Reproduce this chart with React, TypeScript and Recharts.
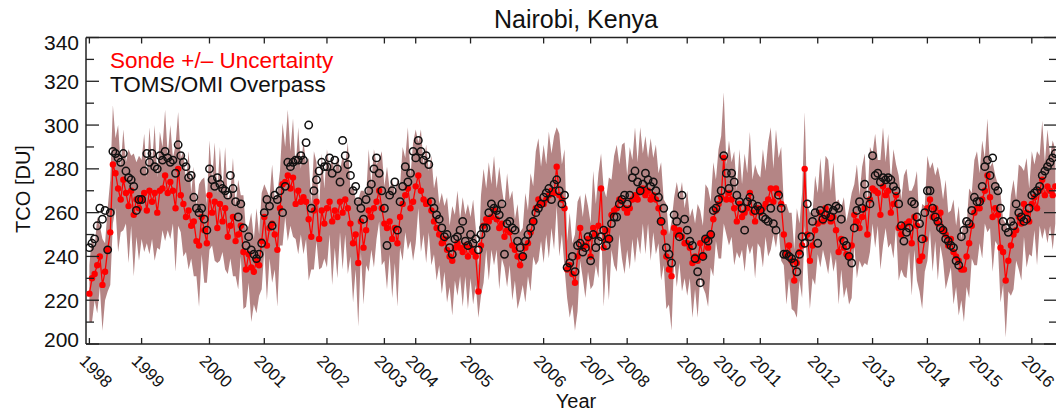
import React from 'react';
import { ComposedChart, Area, Line, XAxis, YAxis, ReferenceLine } from 'recharts';

// one entry per launch year; the x axis is the sounding number, ticks sit on each year's first sounding
const years = ['1998', '1999', '2000', '2001', '2002', '2003', '2004', '2005', '2006', '2007', '2008', '2009', '2010', '2011', '2012', '2013', '2014', '2015', '2016'];

// sonde total column ozone [DU]
const sonde = [
  [223, 230, 232, 236, 240, 227, 233, 243, 251, 282, 278, 271, 266, 275, 269, 263, 270, 259, 266, 262],
  [266, 269, 261, 270, 265, 269, 260, 270, 271, 277, 269, 274, 270, 262, 280, 268, 264, 258, 261, 254, 256, 247, 245, 258, 252, 246],
  [268, 260, 265, 253, 264, 256, 262, 249, 254, 258, 247, 250, 254, 242, 234, 241, 235, 233, 238, 236, 247],
  [258, 245, 253, 255, 250, 243, 262, 273, 274, 277, 271, 276, 264, 270, 265, 267, 265, 257, 249, 261, 265, 248, 261, 255],
  [262, 265, 256, 261, 258, 265, 260, 266, 262, 255, 246, 250, 237, 256, 244, 252, 261, 258, 262, 265, 270, 262],
  [255, 253, 256, 248, 253, 246, 258, 264, 268, 271, 262, 265],
  [272, 277, 270, 266, 264, 265, 261, 256, 253, 250, 246, 248, 243, 240, 238, 244, 246, 244, 242, 245, 240],
  [244, 242, 240, 224, 245, 254, 257, 256, 258, 261, 257, 253, 255, 249, 252, 251, 245, 243, 240, 236, 240, 244, 246, 251, 256, 262, 266, 264],
  [264, 266, 268, 270, 269, 281, 268, 266, 262, 234, 236, 232, 228, 240, 253, 244, 245, 248],
  [240, 253, 250, 254, 271, 244, 252, 248, 259, 261, 262, 266, 265, 262],
  [260, 262, 266, 268, 266, 270, 271, 268, 270, 266, 268, 266, 262, 256, 251, 240, 234, 231, 253, 250, 252, 249, 246],
  [246, 244, 237, 240, 238, 246, 240, 248, 244, 250, 257, 261, 264, 267],
  [285, 266, 269, 266, 262, 256, 264, 258, 260, 262, 269, 260, 256, 262],
  [260, 262, 264, 266, 271, 265, 271, 269, 264, 250, 241, 245, 238, 229, 237, 242, 245, 280, 250, 238, 245, 252],
  [255, 260, 256, 262, 258, 256, 258, 252, 242, 248, 244, 241, 240, 245, 259, 256, 253, 258, 262, 250, 266],
  [271, 270, 269, 259, 272, 268, 270, 260, 264, 268, 253, 250, 254, 255, 256, 246, 258, 254, 238, 240, 248],
  [262, 266, 258, 262, 255, 260, 252, 250, 245, 248, 242, 240, 238, 234, 234, 240, 246, 254, 260, 262],
  [262, 266, 270, 277, 267, 258, 262, 259, 244, 242, 229, 238, 245, 250, 252, 258, 255, 264, 260, 256],
  [264, 267, 262, 270, 275, 268, 272, 270, 268, 272],
];

// TOMS/OMI overpass total ozone [DU]
const overpass = [
  [244, 246, 248, 254, 262, 257, 261, 243, 260, 288, 287, 285, 283, 287, 279, 276, 275, 272, 261, 266],
  [266, 279, 287, 283, 287, 281, 280, 286, 284, 288, 285, 283, 284, 278, 291, 286, 283, 281, 276, 277, 267, 262, 260, 262, 257, 252],
  [280, 275, 272, 276, 273, 271, 270, 268, 277, 271, 265, 258, 264, 253, 245, 249, 243, 241, 239, 241, 246],
  [260, 266, 263, 254, 268, 266, 270, 260, 272, 283, 281, 283, 284, 284, 286, 284, 292, 300, 262, 270, 275, 279, 283, 281],
  [281, 285, 278, 284, 280, 274, 293, 286, 282, 277, 270, 272, 265, 262, 257, 266, 270, 273, 280, 285, 278, 270],
  [262, 245, 268, 270, 274, 252, 265, 272, 281, 274, 278, 288],
  [285, 293, 288, 284, 286, 282, 265, 262, 259, 257, 253, 249, 250, 244, 241, 248, 249, 252, 256, 247, 245],
  [250, 246, 248, 243, 250, 253, 253, 260, 264, 262, 261, 259, 264, 241, 255, 256, 253, 252, 247, 244, 240, 247, 250, 253, 256, 260, 262, 264],
  [267, 269, 271, 266, 273, 275, 270, 264, 268, 235, 237, 240, 233, 245, 246, 242, 244, 249],
  [238, 250, 244, 247, 249, 252, 245, 248, 255, 258, 258, 264, 266, 268],
  [264, 268, 276, 279, 274, 270, 273, 278, 275, 272, 274, 270, 267, 256, 262, 244, 241, 237, 259, 256, 249, 268, 257],
  [252, 247, 245, 239, 233, 228, 240, 248, 247, 250, 261, 262, 266, 270],
  [286, 278, 271, 278, 274, 268, 265, 262, 252, 265, 267, 264, 261, 263],
  [261, 258, 257, 256, 262, 255, 252, 268, 262, 241, 241, 240, 239, 237, 233, 241, 249, 246, 264, 249, 256, 260],
  [246, 261, 257, 259, 262, 258, 261, 263, 262, 257, 247, 245, 240, 237, 253, 261, 265, 262, 273, 268, 264],
  [286, 277, 278, 274, 276, 275, 276, 275, 272, 270, 264, 254, 247, 251, 253, 265, 264, 258, 255, 248, 260],
  [270, 270, 262, 258, 256, 253, 252, 248, 247, 245, 244, 238, 236, 249, 252, 256, 255, 261, 267, 265],
  [265, 272, 281, 284, 277, 285, 272, 270, 262, 256, 253, 251, 256, 254, 264, 260, 258, 256, 257, 262],
  [268, 269, 270, 272, 277, 279, 281, 283, 285, 287],
];

// sonde uncertainty [DU]
const uncertainty = [
  [13, 20, 12, 22, 14, 21, 13, 19, 24, 27, 16, 29, 15, 23, 14, 26, 16, 28, 17, 24],
  [18, 27, 15, 29, 17, 31, 16, 27, 19, 30, 17, 26, 15, 29, 26, 17, 24, 16, 27, 15, 25, 16, 28, 17, 24, 18],
  [25, 15, 27, 16, 26, 14, 28, 17, 15, 27, 16, 25, 14, 26, 17, 13, 25, 15, 24, 14, 22],
  [15, 25, 14, 27, 16, 26, 17, 28, 16, 30, 17, 27, 16, 29, 15, 26, 17, 28, 15, 27, 18, 14, 26, 16],
  [27, 15, 29, 17, 28, 14, 26, 16, 30, 15, 27, 16, 29, 14, 26, 16, 28, 15, 27, 17, 14, 26],
  [17, 28, 15, 27, 16, 29, 14, 26, 17, 28, 15, 27],
  [26, 15, 28, 16, 27, 14, 25, 15, 24, 14, 23, 15, 24, 14, 25, 15, 24, 13, 25, 14, 24],
  [14, 24, 13, 12, 23, 26, 14, 27, 15, 25, 14, 28, 16, 14, 26, 15, 25, 14, 24, 15, 13, 25, 15, 27, 16, 26, 28, 17],
  [27, 16, 29, 17, 26, 18, 28, 16, 27, 13, 24, 14, 22, 25, 15, 14, 24, 15],
  [15, 26, 14, 24, 16, 27, 15, 28, 16, 25, 29, 16, 26, 30],
  [17, 28, 18, 31, 17, 29, 16, 27, 15, 28, 17, 25, 16, 27, 15, 24, 16, 25, 14, 24, 15, 25, 16],
  [24, 14, 25, 15, 26, 15, 14, 25, 27, 15, 26, 14, 25, 28],
  [30, 16, 24, 17, 26, 14, 25, 15, 27, 16, 28, 15, 26, 16],
  [16, 27, 15, 26, 28, 15, 27, 16, 26, 14, 23, 15, 22, 14, 25, 13, 24, 26, 14, 22, 15, 25],
  [14, 25, 13, 24, 26, 14, 25, 13, 24, 14, 23, 15, 22, 24, 14, 26, 15, 23, 25, 14, 24],
  [16, 26, 15, 25, 27, 15, 26, 14, 25, 14, 24, 16, 23, 25, 14, 24, 15, 25, 14, 24, 15],
  [24, 14, 25, 15, 26, 15, 14, 25, 15, 13, 24, 14, 25, 14, 24, 14, 25, 15, 24, 26],
  [16, 27, 15, 26, 14, 25, 15, 14, 25, 15, 26, 14, 23, 25, 14, 24, 26, 15, 25, 15],
  [24, 15, 26, 16, 27, 15, 26, 16, 25, 17],
];

const yTicks = [200, 210, 220, 230, 240, 250, 260, 270, 280, 290, 300, 310, 320, 330, 340];

const yearStart: number[] = [];
const data: { i: number; sonde: number; toms: number; band: [number, number] }[] = [];
years.forEach((_, y) => {
  yearStart.push(data.length);
  sonde[y].forEach((v, k) => {
    const u = uncertainty[y][k];
    data.push({ i: data.length, sonde: v, toms: overpass[y][k], band: [v - u, v + u] });
  });
});

const W = 1060;
const H = 411;
const TOP = 37.5;
const LEFT = 86;
const RIGHT = 1057;
const BOTTOM = 344;
const X_MIN = -1.3;
const X_MAX = data.length - 0.35;
const FONT = "'Liberation Sans', Arial, Helvetica, sans-serif";
const AXIS = '#222';

function YTick(props: any) {
  const { y, payload } = props;
  const v = payload.value;
  const major = v % 20 === 0;
  const len = major ? 13 : 8;
  let ly = y;
  if (v === 340) ly = y + 5;
  if (v === 200) ly = y - 5;
  return (
    <g>
      <line x1={LEFT} x2={LEFT + len} y1={y} y2={y} stroke={AXIS} strokeWidth={1.3} />
      <line x1={RIGHT - len} x2={RIGHT} y1={y} y2={y} stroke={AXIS} strokeWidth={1.3} />
      {major && (
        <text x={LEFT - 7} y={ly} textAnchor="end" dominantBaseline="central" fontSize={21} fontFamily={FONT} fill="#111">
          {v}
        </text>
      )}
    </g>
  );
}

function XTick(props: any) {
  const { x, payload } = props;
  const idx = yearStart.indexOf(payload.value);
  const label = idx >= 0 ? years[idx] : '';
  const tx = x - 11;
  const ty = BOTTOM + 18;
  return (
    <g>
      <line x1={x} x2={x} y1={BOTTOM} y2={BOTTOM - 6} stroke={AXIS} strokeWidth={1.3} />
      <line x1={x} x2={x} y1={TOP} y2={TOP + 6} stroke={AXIS} strokeWidth={1.3} />
      <text x={tx} y={ty} transform={`rotate(45 ${tx} ${ty})`} fontSize={17} fontFamily={FONT} fill="#111">
        {label}
      </text>
    </g>
  );
}

export default function App() {
  return (
    <div style={{ position: 'absolute', left: 0, top: 0, width: 1056, height: H, overflow: 'hidden', background: '#fff' }}>
      <ComposedChart width={W} height={H} data={data} margin={{ top: TOP, right: W - RIGHT, bottom: 0, left: 0 }}>
        <Area
          dataKey="band"
          type="linear"
          stroke="none"
          fill="#a46a6a"
          fillOpacity={0.82}
          isAnimationActive={false}
        />
        <Line
          dataKey="sonde"
          type="linear"
          stroke="#ff0000"
          strokeWidth={1.3}
          dot={{ r: 3.2, fill: '#ff0000', stroke: 'none' }}
          activeDot={false}
          isAnimationActive={false}
        />
        <Line
          dataKey="toms"
          type="linear"
          stroke="none"
          dot={{ r: 3.7, fill: 'none', stroke: '#111', strokeWidth: 1.5 }}
          activeDot={false}
          isAnimationActive={false}
        />
        <XAxis
          dataKey="i"
          type="number"
          domain={[X_MIN, X_MAX]}
          ticks={yearStart}
          interval={0}
          allowDataOverflow
          height={H - BOTTOM}
          tickSize={0}
          tickMargin={0}
          tickLine={false}
          tick={<XTick />}
          axisLine={{ stroke: AXIS, strokeWidth: 1.5 }}
        />
        <YAxis
          type="number"
          domain={[200, 340]}
          ticks={yTicks}
          interval={0}
          allowDataOverflow
          width={LEFT}
          tickSize={0}
          tickMargin={0}
          tickLine={false}
          tick={<YTick />}
          axisLine={{ stroke: AXIS, strokeWidth: 1.5 }}
        />
        <ReferenceLine y={340} stroke={AXIS} strokeWidth={1.5} />
        <ReferenceLine x={X_MAX} stroke={AXIS} strokeWidth={1.5} />
      </ComposedChart>
      <svg width={1056} height={H} style={{ position: 'absolute', left: 0, top: 0, pointerEvents: 'none' }} fontFamily={FONT}>
        <text x={576} y={28} textAnchor="middle" fontSize={25} fill="#111">Nairobi, Kenya</text>
        <text x={110} y={68} fontSize={22.5} fill="#ff0000">Sonde +/– Uncertainty</text>
        <text x={110} y={91.5} fontSize={22.5} fill="#111">TOMS/OMI Overpass</text>
        <text x={30} y={189} textAnchor="middle" fontSize={20} fill="#111" transform="rotate(-90 30 189)">TCO [DU]</text>
        <text x={576} y={408} textAnchor="middle" fontSize={20} fill="#111">Year</text>
      </svg>
    </div>
  );
}
